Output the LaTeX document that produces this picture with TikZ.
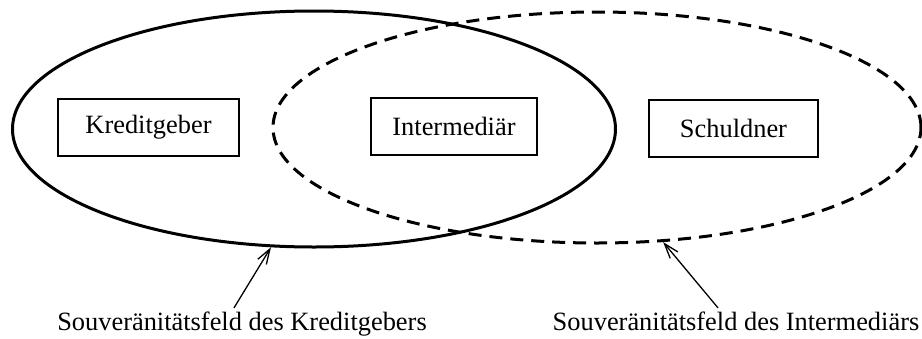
\documentclass[tikz,border=0pt]{standalone}
\usepackage{fontspec}
\setmainfont{Liberation Serif}
\usetikzlibrary{shapes.geometric,arrows.meta}
\begin{document}
\begin{tikzpicture}[x=1pt,y=-1pt,
  every node/.style={font=\fontsize{26.4}{30}\selectfont},
  actor/.style={draw,line width=1.3pt,inner sep=0pt,minimum height=57pt},
  field/.style={ellipse,draw,line width=3pt,inner sep=0pt},
  pointer/.style={line width=1.3pt,-{Straight Barb[length=15pt,width=10pt,line width=1.3pt]}}]
\useasboundingbox (0,0) rectangle (922,338);
\node[field,minimum width=603pt,minimum height=236pt] (kf) at (314,129) {};
\node[field,dash pattern=on 13pt off 8pt,minimum width=648pt,minimum height=231pt] (if) at (597,127.5) {};
\node[actor,minimum width=181pt] (kg) at (148.5,127.5) {Kreditgeber};
\node[actor,minimum width=166pt] (im) at (454,126.5) {Intermediär};
\node[actor,minimum width=169pt] (sd) at (733.5,128.5) {Schuldner};
\node[anchor=base] (lk) at (242,330) {Souveränitätsfeld des Kreditgebers};
\node[anchor=base] (li) at (736,330) {Souveränitätsfeld des Intermediärs};
\draw[pointer] ([xshift=-8pt]lk.north) -- (kf.250);
\draw[pointer] ([xshift=-18pt]li.north) -- (if.300);
\end{tikzpicture}
\end{document}
